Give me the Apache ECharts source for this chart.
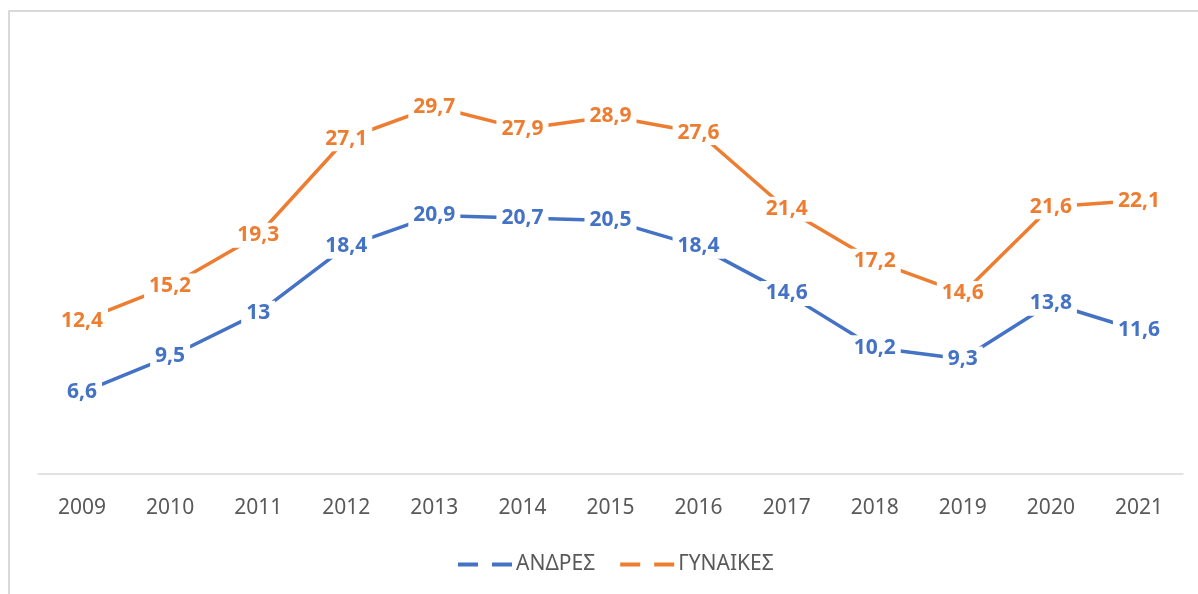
<!DOCTYPE html>
<html>
<head>
<meta charset="utf-8">
<script src="https://cdn.jsdelivr.net/npm/echarts@6/dist/echarts.min.js"></script>
<style>
  html, body { margin: 0; padding: 0; overflow: hidden; background: #fff; }
  #frame { position: absolute; left: 8px; top: 10px; width: 1300px; height: 700px; border: 2px solid #d9d9d9; }
  #chart { position: absolute; left: 0; top: 0; width: 1198px; height: 594px; }
</style>
</head>
<body>
<div id="frame"></div>
<div id="chart"></div>
<script>
// years on the x axis
const years = ["2009", "2010", "2011", "2012", "2013", "2014", "2015", "2016", "2017", "2018", "2019", "2020", "2021"];
// ΑΝΔΡΕΣ
const men = [6.6, 9.5, 13, 18.4, 20.9, 20.7, 20.5, 18.4, 14.6, 10.2, 9.3, 13.8, 11.6];
// ΓΥΝΑΙΚΕΣ
const women = [12.4, 15.2, 19.3, 27.1, 29.7, 27.9, 28.9, 27.6, 21.4, 17.2, 14.6, 21.6, 22.1];

const FONT = "Noto Sans";
const dashIcon = "path://M0,0h20v4h-20z M34,0h20v4h-20z";

function makeSerie(name, data, color) {
  return {
    name: name,
    type: "line",
    data: data,
    symbol: "circle",
    symbolSize: 1,
    itemStyle: { color: color },
    lineStyle: { color: color, width: 3.5 },
    label: {
      show: true,
      position: "inside",
      color: color,
      fontFamily: FONT,
      fontWeight: "bold",
      fontSize: 21,
      backgroundColor: "#fff",
      padding: [2, 5],
      formatter: p => String(p.value).replace(".", ",")
    },
    emphasis: { disabled: true },
    animation: false
  };
}

const chart = echarts.init(document.getElementById("chart"));
chart.setOption({
  backgroundColor: "transparent",
  grid: { left: 38, right: 15, top: 41, bottom: 120 },
  legend: {
    bottom: 14,
    left: 453,
    icon: dashIcon,
    itemWidth: 54,
    itemHeight: 4,
    itemGap: 25,
    textStyle: { color: "#595959", fontFamily: FONT, fontSize: 21, padding: [0, 0, 0, -1] },
    data: ["ΑΝΔΡΕΣ", "ΓΥΝΑΙΚΕΣ"]
  },
  xAxis: {
    type: "category",
    data: years,
    boundaryGap: true,
    axisLine: { lineStyle: { color: "#d9d9d9", width: 1.5 } },
    axisTick: { show: false },
    axisLabel: { color: "#595959", fontFamily: FONT, fontSize: 21, margin: 24 }
  },
  yAxis: {
    type: "value",
    min: 0,
    max: 35,
    show: false,
    splitLine: { show: false }
  },
  series: [
    makeSerie("ΑΝΔΡΕΣ", men, "#4472C4"),
    makeSerie("ΓΥΝΑΙΚΕΣ", women, "#ED7D31")
  ]
});
window.addEventListener("resize", function() {
  chart.resize();
});
</script>
</body>
</html>
